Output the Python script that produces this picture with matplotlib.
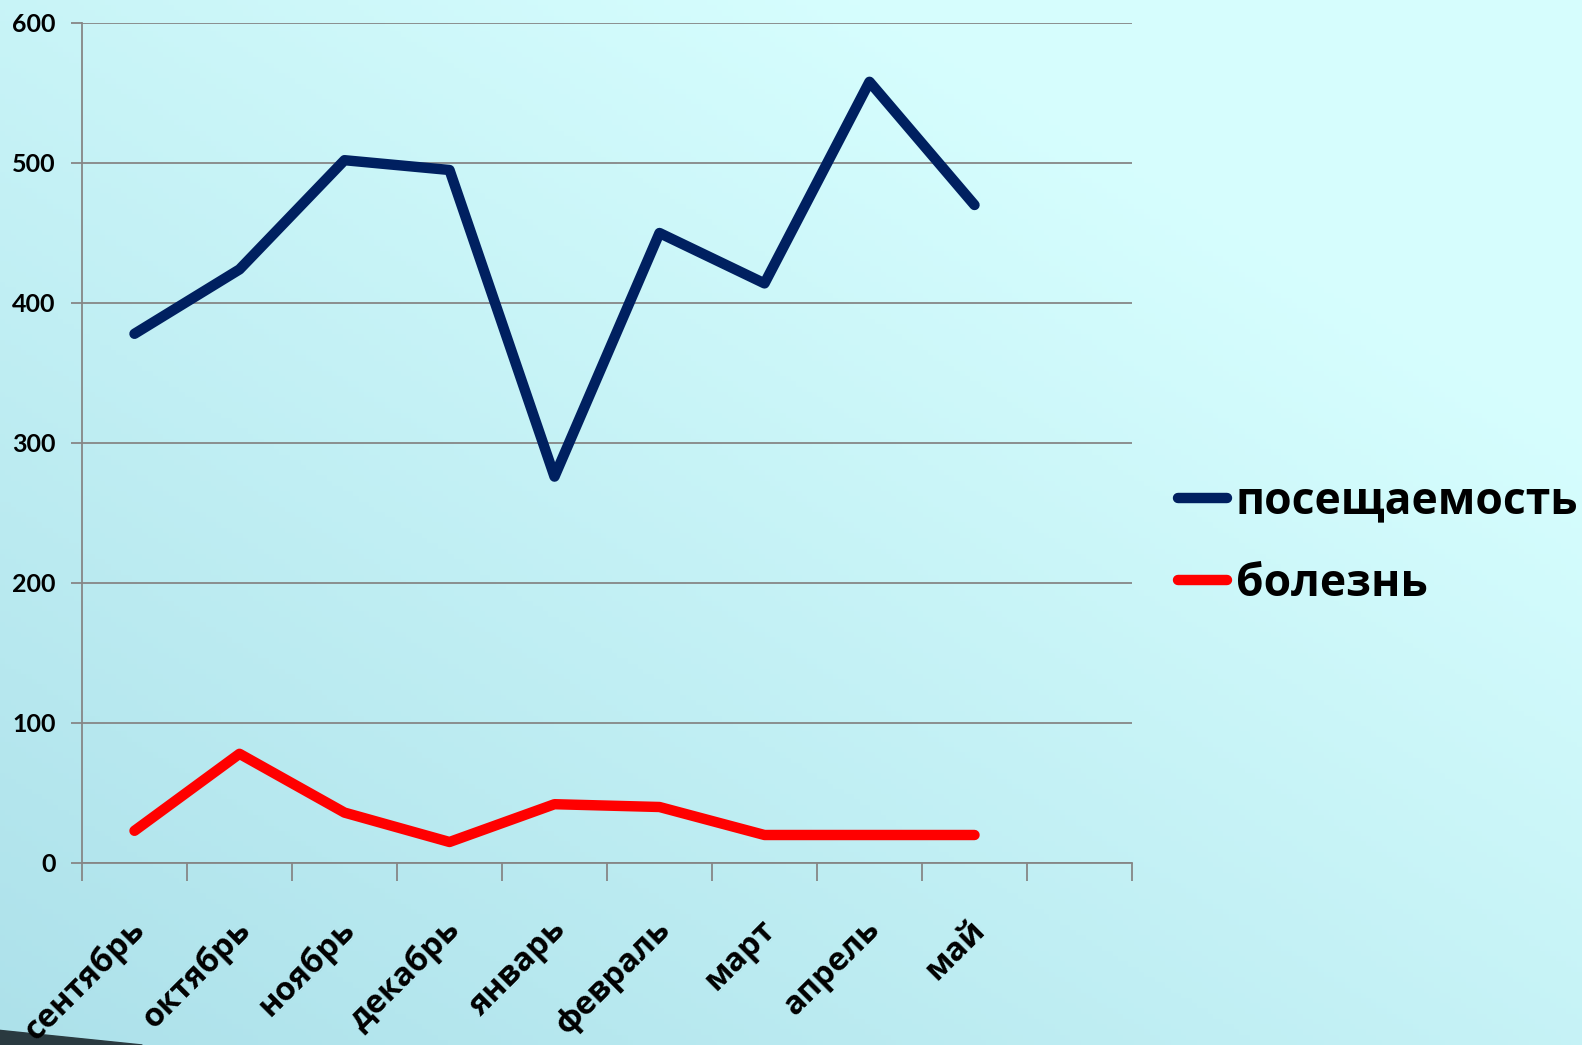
import numpy as np
import matplotlib.pyplot as plt
from matplotlib.lines import Line2D
from matplotlib.transforms import ScaledTranslation

# data
months = ['сентябрь', 'октябрь', 'ноябрь', 'декабрь', 'январь',
          'февраль', 'март', 'апрель', 'май']
attendance = [378, 424, 502, 495, 276, 450, 414, 558, 470]
illness = [23, 78, 36, 15, 42, 40, 20, 20, 20]
n_slots = 10  # one empty category at the end
yticks = [0, 100, 200, 300, 400, 500, 600]

plt.rcParams['font.family'] = ['Open Sans', 'DejaVu Sans']

W, H = 1582, 1045
fig = plt.figure(figsize=(W / 100, H / 100), dpi=100)

# background gradient
bg = fig.add_axes([0, 0, 1, 1], zorder=-10)
yy, xx = np.mgrid[0:1:200j, 0:1:300j]
t = np.clip(0.55 * xx + 0.6 * (1 - yy) + 0.1, 0, 1)  # 1 = light, 0 = dark
light = np.array([0.84, 0.995, 0.995])
dark = np.array([0.66, 0.87, 0.91])
img = dark + (light - dark) * t[..., None]
bg.imshow(img, extent=[0, 1, 0, 1], aspect='auto', origin='upper')
bg.fill([0, 0, 0.09], [0, 0.014, 0], color='#2a3a40')
bg.set_xlim(0, 1)
bg.set_ylim(0, 1)
bg.axis('off')

left, right, top, bottom = 82, 1132, 23, 863
ax = fig.add_axes([left / W, 1 - bottom / H, (right - left) / W, (bottom - top) / H])
ax.patch.set_alpha(0)

x = np.arange(len(months)) + 0.5
ax.plot(x, attendance, color='#002060', lw=7.5, solid_capstyle='round',
        solid_joinstyle='round', label='посещаемость')
ax.plot(x, illness, color='#ff0000', lw=7.5, solid_capstyle='round',
        solid_joinstyle='round', label='болезнь')

ax.set_xlim(0, n_slots)
ax.set_ylim(0, 600)
ax.set_yticks(yticks)
ax.set_yticklabels([str(v) for v in yticks], fontsize=18, fontweight='bold',
                   family=['Lato', 'DejaVu Sans'])
ax.set_xticks(range(n_slots + 1))
ax.set_xticklabels([])

# month labels, rotated, anchored just below each category centre
offset = ScaledTranslation(-6 / 100, -50 / 100, fig.dpi_scale_trans)
for xi, name in zip(x, months):
    ax.text(xi, 0, name, transform=ax.get_xaxis_transform() + offset,
            rotation=45, ha='right', va='top', rotation_mode='anchor',
            fontsize=23.5, fontweight='bold', clip_on=False)

ax.tick_params(axis='x', length=13, width=1.3, color='#868686')
ax.tick_params(axis='y', length=8, width=1.3, color='#868686', pad=11)
ax.grid(axis='y', color='#868686', lw=1.3)
for s in ['top', 'right']:
    ax.spines[s].set_visible(False)
for s in ['left', 'bottom']:
    ax.spines[s].set_color('#868686')
    ax.spines[s].set_linewidth(1.3)
ax.set_axisbelow(True)

handles = [Line2D([], [], color='#002060', lw=7.5, solid_capstyle='round'),
           Line2D([], [], color='#ff0000', lw=7.5, solid_capstyle='round')]
fig.legend(handles, ['посещаемость', 'болезнь'], loc='center left',
           bbox_to_anchor=(1160 / W, 1 - 543 / H), frameon=False,
           prop={'size': 32, 'weight': 'bold'}, handlelength=1.1,
           handletextpad=0.2, labelspacing=0.85, borderaxespad=0)

fig.savefig('out.png', dpi=100)
